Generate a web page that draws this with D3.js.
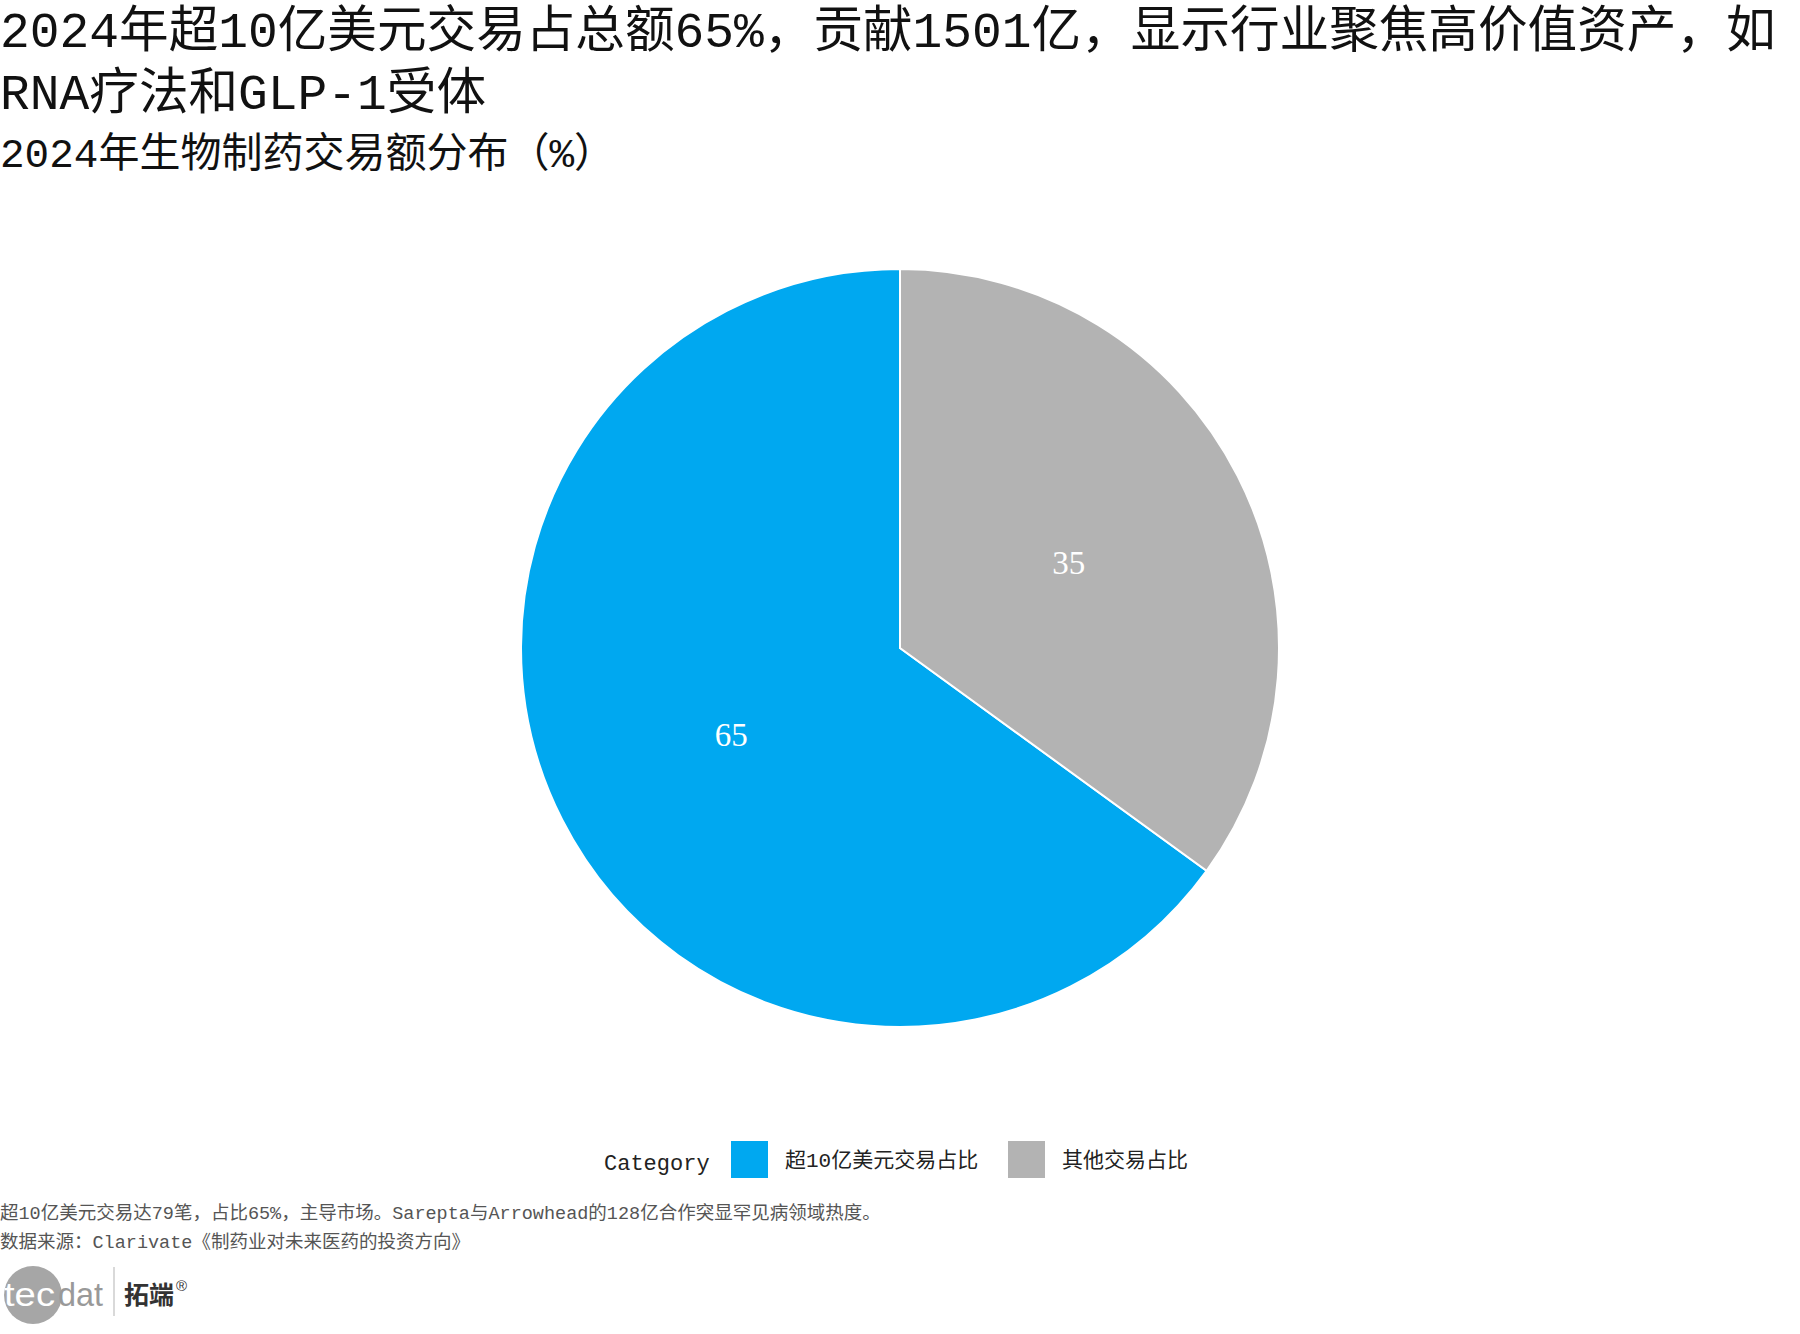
<!DOCTYPE html>
<html>
<head>
<meta charset="utf-8">
<script src="https://cdn.jsdelivr.net/npm/d3@7"></script>
<style>
  html, body { margin: 0; padding: 0; background: #fff; }
  svg { display: block; }
  svg { font-family: "Liberation Mono", "Noto Sans CJK SC", sans-serif; }
</style>
</head>
<body>
<svg id="chart" width="1800" height="1334"></svg>
<script>
// ---- data ----
const titleLines = ["2024年超10亿美元交易占总额65%，贡献1501亿，显示行业聚焦高价值资产，如", "RNA疗法和GLP-1受体"];
const subtitle = "2024年生物制药交易额分布（%）";
const categories = ["超10亿美元交易占比", "其他交易占比"];
const values = [65, 35];
const colors = ["#00A8F0", "#B3B3B3"];
const legendTitle = "Category";
const notes = ["超10亿美元交易达79笔，占比65%，主导市场。Sarepta与Arrowhead的128亿合作突显罕见病领域热度。",
               "数据来源：Clarivate《制药业对未来医药的投资方向》"];

const svg = d3.select("#chart");

// titles
svg.selectAll("text.title").data(titleLines).enter().append("text")
  .attr("class", "title")
  .attr("x", 0).attr("y", (d, i) => 47 + i * 62)
  .style("font-size", "49.6px").attr("fill", "#111")
  .text(d => d);
svg.append("text").attr("x", 0).attr("y", 167)
  .style("font-size", "41px").attr("fill", "#111").text(subtitle);

// pie
const cx = 900, cy = 648, r = 379;
const data = categories.map((c, i) => ({ cat: c, value: values[i] }));
const color = d3.scaleOrdinal().domain(categories).range(colors);
const pie = d3.pie().value(d => d.value).sort(null).startAngle(0).endAngle(-2 * Math.PI);
const arc = d3.arc().innerRadius(0).outerRadius(r);
const g = svg.append("g").attr("transform", `translate(${cx},${cy})`);
const arcs = pie(data);
g.selectAll("path").data(arcs).enter().append("path")
  .attr("d", arc)
  .attr("fill", d => color(d.data.cat))
  .attr("stroke", "#fff").attr("stroke-width", 2).attr("stroke-linejoin", "miter");
g.selectAll("text.lbl").data(arcs).enter().append("text")
  .attr("class", "lbl")
  .attr("transform", d => `translate(${arc.centroid(d)})`)
  .attr("text-anchor", "middle").attr("dy", "0.35em")
  .style("font-family", "'Liberation Serif', serif")
  .style("font-size", "33px").attr("fill", "#fff")
  .text(d => d.data.value);

// legend
const lg = svg.append("g");
lg.append("text").attr("x", 604).attr("y", 1162).attr("dy", "0.35em")
  .style("font-size", "22px").attr("fill", "#222").text(legendTitle);
const legendX = [731, 1008];
categories.forEach((c, i) => {
  lg.append("rect").attr("x", legendX[i]).attr("y", 1141).attr("width", 37).attr("height", 37)
    .attr("fill", color(c));
  lg.append("text").attr("x", legendX[i] + 54).attr("y", 1160).attr("dy", "0.35em")
    .style("font-size", "21px").attr("fill", "#222").text(c);
});

// notes
svg.selectAll("text.note").data(notes).enter().append("text")
  .attr("class", "note")
  .attr("x", 0).attr("y", (d, i) => 1219 + i * 29)
  .style("font-size", "18.5px").attr("fill", "#555").text(d => d);

// logo
const logo = svg.append("g");
logo.append("circle").attr("cx", 33).attr("cy", 1295).attr("r", 29).attr("fill", "#a6a6a6");
logo.append("text").attr("x", 4).attr("y", 1306)
  .style("font-family", "'Liberation Sans', Arial, sans-serif")
  .style("font-size", "33px").attr("fill", "#fff")
  .attr("textLength", 51).attr("lengthAdjust", "spacingAndGlyphs").text("tec");
logo.append("text").attr("x", 58).attr("y", 1306)
  .style("font-family", "'Liberation Sans', Arial, sans-serif")
  .style("font-size", "33px").attr("fill", "#999")
  .attr("textLength", 45).attr("lengthAdjust", "spacingAndGlyphs").text("dat");
logo.append("line").attr("x1", 114).attr("x2", 114).attr("y1", 1267).attr("y2", 1316)
  .attr("stroke", "#ccc").attr("stroke-width", 1.5);
logo.append("text").attr("x", 124).attr("y", 1304)
  .style("font-family", "'Noto Sans CJK SC', sans-serif")
  .style("font-size", "25px").style("font-weight", "bold").attr("fill", "#333").text("拓端");
logo.append("text").attr("x", 176).attr("y", 1291)
  .style("font-family", "'Liberation Sans', sans-serif")
  .style("font-size", "15px").attr("fill", "#333").text("®");
</script>
</body>
</html>
